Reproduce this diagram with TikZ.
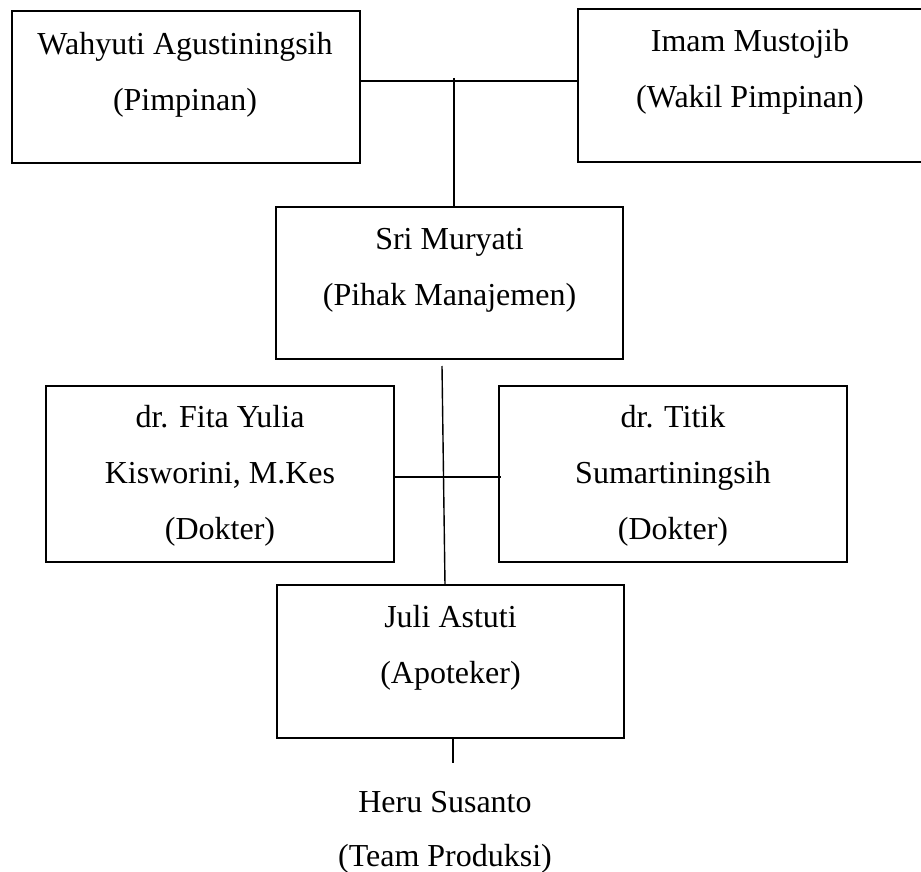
\documentclass[tikz,border=0pt]{standalone}
\usepackage{fontspec}
\setmainfont{Liberation Serif}
\begin{document}
\begin{tikzpicture}[x=1pt,y=-1pt,
  orgbox/.style={draw, line width=1.4pt, rectangle, inner sep=0pt},
  orgtext/.style={anchor=base, align=center, inner sep=0pt, font=\fontsize{32}{56}\selectfont},
  link/.style={line width=1.4pt}]
\useasboundingbox (0,0) rectangle (921,872);
\clip (0,0) rectangle (921,872);
% boxes
\node[orgbox, minimum width=348pt, minimum height=152pt] (b1) at (186,87) {};
\node[orgbox, minimum width=346pt, minimum height=153pt] (b2) at (751,85.5) {};
\node[orgbox, minimum width=347pt, minimum height=152pt] (b3) at (449.5,283) {};
\node[orgbox, minimum width=348pt, minimum height=176pt] (b4) at (220,474) {};
\node[orgbox, minimum width=348pt, minimum height=176pt] (b5) at (673,474) {};
\node[orgbox, minimum width=347pt, minimum height=153pt] (b6) at (450.5,661.5) {};
% texts (base anchor = baseline of the last line)
\node[orgtext] (t1) at (185,111) {Wahyuti Agustiningsih\\(Pimpinan)};
\node[orgtext] (t2) at (750,108) {Imam Mustojib\\(Wakil Pimpinan)};
\node[orgtext] (t3) at (449.5,305) {Sri Muryati\\(Pihak Manajemen)};
\node[orgtext] (t4) at (220,539) {dr. Fita Yulia\\Kisworini, M.Kes\\(Dokter)};
\node[orgtext] (t5) at (673,539) {dr. Titik\\Sumartiningsih\\(Dokter)};
\node[orgtext] (t6) at (450.5,683) {Juli Astuti\\(Apoteker)};
\node[orgtext, font=\fontsize{32}{54}\selectfont] (t7) at (445,866) {Heru Susanto\\(Team Produksi)};
% junction coordinates
\coordinate (j1) at (454,81);
\coordinate (j2) at (442,366);
\coordinate (j3) at (445,585);
\coordinate (j4) at (443,477);
\coordinate (j5) at (453,763);
% connectors
\draw[link] (b1.east |- j1) -- (b2.west |- j1);
\draw[link] ([yshift=3pt]j1) -- (j1 |- b3.north);
\draw[link] (j2) -- (j3);
\draw[link] (b4.east |- j4) -- ([xshift=3pt]b5.west |- j4);
\draw[link] (j5 |- b6.south) -- (j5);
\end{tikzpicture}
\end{document}
